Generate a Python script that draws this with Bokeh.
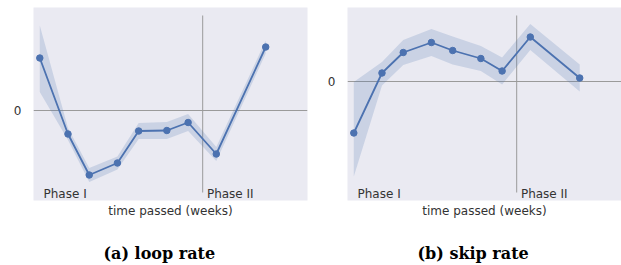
from bokeh.plotting import figure
from bokeh.layouts import row
from bokeh.models import Label, Title, FixedTicker, Range1d
from bokeh.embed import file_html
from bokeh.resources import INLINE

# ---- data ----
weeks = [0.0, 1.14, 2.0, 3.14, 4.0, 5.14, 6.0, 7.14, 9.14]

loop_rate = [1.05, -0.47, -1.29, -1.05, -0.41, -0.40, -0.24, -0.87, 1.27]
loop_lower = [0.37, -0.59, -1.43, -1.18, -0.57, -0.57, -0.41, -1.01, 1.14]
loop_upper = [1.70, -0.35, -1.15, -0.92, -0.25, -0.23, -0.07, -0.73, 1.40]

skip_rate = [-1.03, 0.17, 0.58, 0.78, 0.62, 0.46, 0.21, 0.89, 0.07]
skip_lower = [-1.90, -0.08, 0.33, 0.51, 0.34, 0.21, -0.06, 0.63, -0.20]
skip_upper = [-0.01, 0.39, 0.83, 1.05, 0.90, 0.71, 0.48, 1.15, 0.34]

phase_split = 6.59
y_ticks = [0]
x_label = "time passed (weeks)"
phase_names = ["Phase I", "Phase II"]
captions = ["(a) loop rate", "(b) skip rate"]

BG = "#EAEAF2"
BLUE = "#4C72B0"
TXT = "#333333"


def make_panel(y, lo, hi, y_range, x_range, width, bl, br, caption, vline, label_y):
    p = figure(width=width, height=265, output_backend="svg", toolbar_location=None,
               x_range=Range1d(*x_range), y_range=Range1d(*y_range),
               min_border_left=bl, min_border_right=br, min_border_top=7,
               min_border_bottom=65)
    p.background_fill_color = BG
    p.border_fill_color = "white"
    p.outline_line_color = None
    p.grid.visible = False

    # axes
    p.xaxis.ticker = FixedTicker(ticks=[])
    p.xaxis.axis_label = x_label
    p.xaxis.axis_label_text_font = "DejaVu Sans"
    p.xaxis.axis_label_text_font_size = "12px"
    p.xaxis.axis_label_text_font_style = "normal"
    p.xaxis.axis_label_text_color = TXT
    p.xaxis.axis_label_standoff = 3
    p.xaxis.major_label_standoff = 0
    p.xaxis.major_tick_out = 0
    p.xaxis.major_tick_in = 0
    p.xaxis.minor_tick_out = 0
    p.xaxis.axis_line_color = None

    p.yaxis.ticker = FixedTicker(ticks=y_ticks)
    p.yaxis.major_label_text_font = "DejaVu Sans"
    p.yaxis.major_label_text_font_size = "12px"
    p.yaxis.major_label_text_color = TXT
    p.yaxis.major_label_standoff = 12
    p.yaxis.major_tick_out = 0
    p.yaxis.major_tick_in = 0
    p.yaxis.minor_tick_out = 0
    p.yaxis.minor_tick_in = 0
    p.yaxis.axis_line_color = None

    # reference lines
    p.segment(x0=[x_range[0]], x1=[x_range[1]], y0=[0], y1=[0],
              line_color="#9a9a9a", line_width=1)
    p.segment(x0=[phase_split], x1=[phase_split], y0=[vline[0]], y1=[vline[1]],
              line_color="#9a9a9a", line_width=1)

    # confidence band, line, markers
    p.varea(x=weeks, y1=lo, y2=hi, fill_color=BLUE, fill_alpha=0.2)
    p.line(weeks, y, line_color=BLUE, line_width=1.8)
    p.scatter(weeks, y, size=6.5, fill_color=BLUE, line_color=BLUE)

    # phase labels
    for xx, name in zip([0.15, 6.76], phase_names):
        p.add_layout(Label(x=xx, y=label_y, text=name, text_font="DejaVu Sans",
                           text_font_size="12px", text_color=TXT,
                           text_baseline="alphabetic", text_align="left"))

    # blank spacer between the axis label and the caption
    spacer = Title(text=" ", text_font="DejaVu Serif", text_font_size="13.5px",
                   standoff=0)
    p.add_layout(spacer, "below")
    t = Title(text=caption, align="left", offset=70, text_font="DejaVu Serif",
              text_font_style="bold", text_font_size="16px", text_color="black",
              standoff=6)
    p.add_layout(t, "below")
    return p


p1 = make_panel(loop_rate, loop_lower, loop_upper, (-1.80, 2.06), (-0.255, 10.83),
                318, 33, 11, captions[0], (1.90, -1.64), -1.66)
p2 = make_panel(skip_rate, skip_lower, skip_upper, (-2.38, 1.48), (-0.255, 10.83),
                303, 29, 0, captions[1], (1.32, -2.22), -2.24)

layout = row(p1, p2)
open("out.html", "w").write(file_html(layout, INLINE))
